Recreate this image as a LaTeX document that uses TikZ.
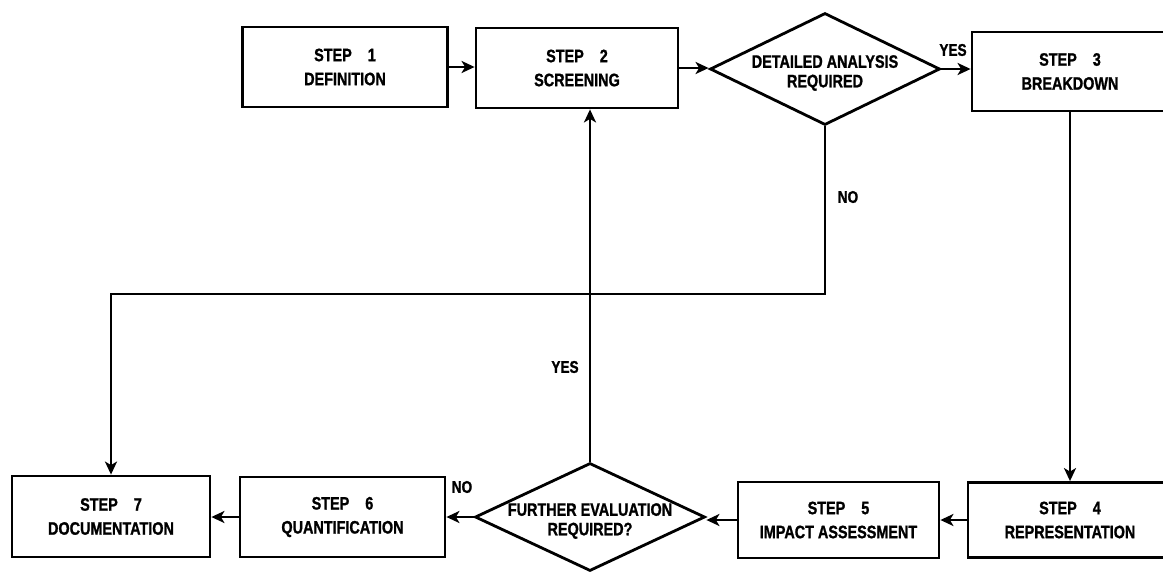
\documentclass[tikz,border=0pt]{standalone}
\usepackage{fontspec}
\setmainfont{Liberation Sans}[FakeStretch=0.8, BoldFeatures={FakeBold=1.2}]
\usetikzlibrary{shapes.geometric,arrows.meta}
\begin{document}
\begin{tikzpicture}[x=1pt,y=-1pt,
  every node/.style={font=\fontsize{18}{24}\selectfont\bfseries, align=center},
  stepbox/.style={draw, line width=2.8pt, inner sep=0pt},
  decision/.style={draw, diamond, inner sep=0pt, line width=2.8pt},
  question/.style={align=center, yshift=-4pt,
    font=\fontsize{18}{19.5}\selectfont\bfseries},
  link/.style={line width=2.8pt},
  flow/.style={link, -{Stealth[length=13pt,width=12pt,inset=3.5pt]}},
  lbl/.style={font=\fontsize{17}{20}\selectfont\bfseries, inner sep=0pt}]
\useasboundingbox (0,0) rectangle (1163,571);
\clip (0,0) rectangle (1163,571);

% top row
\node[stepbox, minimum width=205, minimum height=80] (s1) at (345,67)
  {STEP\hspace{16pt}1\\DEFINITION};
\node[stepbox, minimum width=202, minimum height=80] (s2) at (577,68)
  {STEP\hspace{16pt}2\\SCREENING};
\node[decision, minimum width=230, minimum height=112,
  label={[name=d1text, question]center:DETAILED ANALYSIS\\REQUIRED}] (d1) at (825,69) {};
\node[stepbox, minimum width=196, minimum height=79] (s3) at (1070,71.5)
  {STEP\hspace{16pt}3\\BREAKDOWN};

% bottom row
\node[stepbox, minimum width=204, minimum height=75] (s4) at (1070,520)
  {STEP\hspace{16pt}4\\REPRESENTATION};
\node[stepbox, minimum width=201, minimum height=76] (s5) at (838.5,520)
  {STEP\hspace{16pt}5\\IMPACT ASSESSMENT};
\node[decision, minimum width=230, minimum height=108,
  label={[name=d2text, question]center:FURTHER EVALUATION\\REQUIRED?}] (d2) at (590,517) {};
\node[stepbox, minimum width=205, minimum height=80] (s6) at (342.5,517)
  {STEP\hspace{16pt}6\\QUANTIFICATION};
\node[stepbox, minimum width=198, minimum height=81] (s7) at (111,516.5)
  {STEP\hspace{16pt}7\\DOCUMENTATION};

\coordinate (noturn) at (827,294);

% connectors
\draw[flow] (s1.east) -- (s1.east -| s2.west);
\draw[flow] (s2.east) -- (s2.east -| d1.west);
\draw[flow] (d1.east) -- (d1.east -| s3.west);
\draw[flow] (s3.south) -- (s3.south |- s4.north);
\draw[flow] (s4.west) -- (s4.west -| s5.east);
\draw[flow] (s5.west) -- (s5.west -| d2.east);
\draw[flow] (d2.west) -- (d2.west -| s6.east);
\draw[flow] (s6.west) -- (s6.west -| s7.east);
\draw[flow] (d2.north) -- (d2.north |- s2.south);
\draw[flow] (d1.south) -- (d1.south |- noturn) -| (s7.north);

% branch labels
\node[lbl] (yes1) at (953,50) {YES};
\node[lbl] (no1) at (848,197) {NO};
\node[lbl] (yes2) at (565,367) {YES};
\node[lbl] (no2) at (462,487) {NO};
\end{tikzpicture}
\end{document}
